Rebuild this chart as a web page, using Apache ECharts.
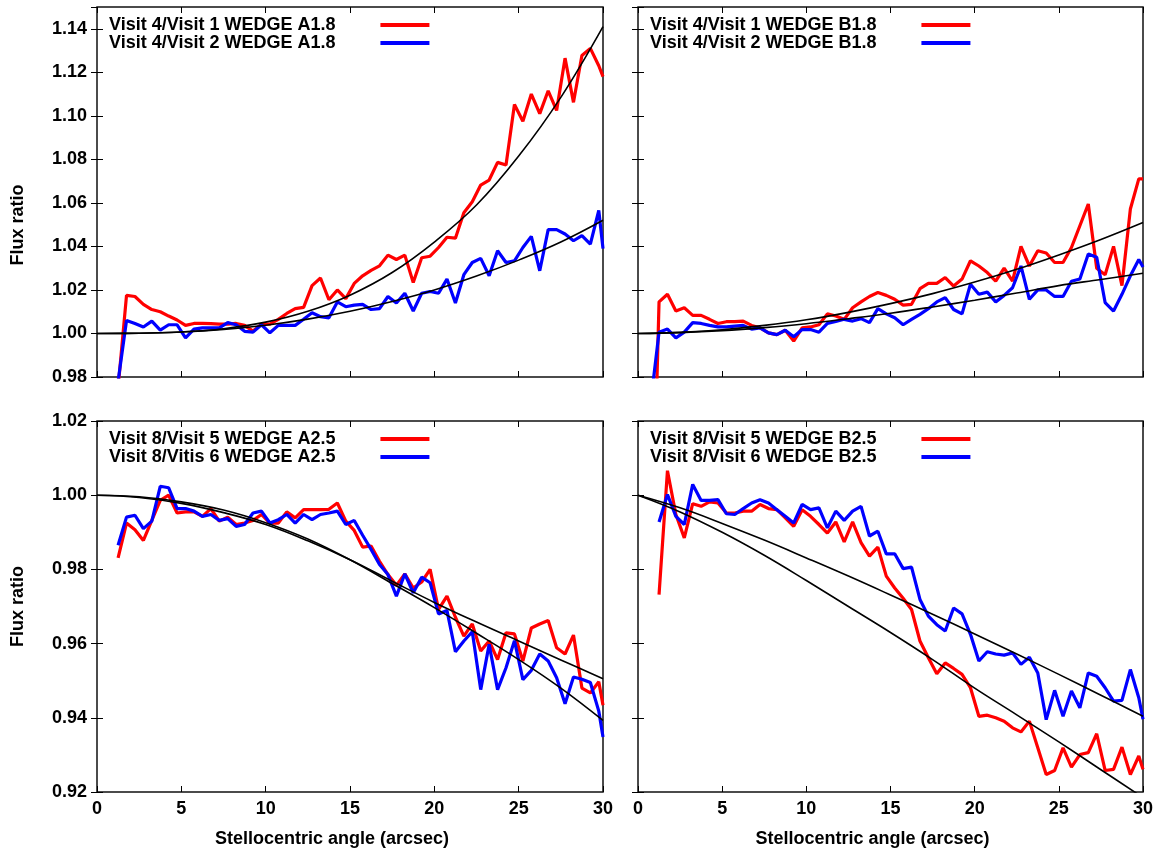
<!DOCTYPE html>
<html>
<head>
<meta charset="utf-8">
<script src="https://cdn.jsdelivr.net/npm/echarts@6/dist/echarts.min.js"></script>
<style>
html,body{margin:0;padding:0;background:#fff;}
#chart{width:1159px;height:852px;}
</style>
</head>
<body>
<div id="chart"></div>
<script>
// ---------- DATA ----------
// sample positions (arcsec); last entry is the right border
const xs = [0.75,1.25,1.75,2.25,2.75,3.25,3.75,4.25,4.75,5.25,5.75,6.25,6.75,7.25,7.75,8.25,8.75,9.25,9.75,10.25,10.75,11.25,11.75,12.25,12.75,13.25,13.75,14.25,14.75,15.25,15.75,16.25,16.75,17.25,17.75,18.25,18.75,19.25,19.75,20.25,20.75,21.25,21.75,22.25,22.75,23.25,23.75,24.25,24.75,25.25,25.75,26.25,26.75,27.25,27.75,28.25,28.75,29.25,29.75,30.0];

// Top-left: WEDGE A1.8
const tlRed = [null,0.975,1.0175,1.017,1.0134,1.011,1.0100,1.008,1.0062,1.0037,1.0046,1.0046,1.0045,1.0043,1.0043,1.0046,1.0037,1.0011,1.0043,1.0043,1.0065,1.0092,1.0114,1.012,1.022,1.0255,1.0155,1.0200,1.016,1.023,1.0265,1.029,1.0311,1.036,1.034,1.036,1.0234,1.0348,1.0355,1.0395,1.0442,1.0438,1.0555,1.0605,1.0682,1.0705,1.0786,1.0774,1.1052,1.0975,1.110,1.101,1.1115,1.1025,1.1265,1.1062,1.1277,1.131,1.123,1.118];
const tlBlue = [null,0.978,1.006,1.0046,1.003,1.0057,1.0015,1.004,1.004,0.998,1.002,1.0026,1.0026,1.0026,1.005,1.004,1.001,1.0006,1.004,1.0003,1.0037,1.0037,1.0037,1.0065,1.0095,1.0077,1.0072,1.0145,1.0123,1.013,1.0134,1.011,1.0114,1.017,1.014,1.0185,1.0103,1.0185,1.0193,1.0185,1.025,1.014,1.027,1.0326,1.0345,1.0265,1.038,1.0326,1.0334,1.0395,1.0446,1.0288,1.0477,1.0477,1.0457,1.0426,1.045,1.041,1.0565,1.039];

// Top-right: WEDGE B1.8
const trRed = [0.87,1.0145,1.018,1.0103,1.0118,1.0083,1.0083,1.0065,1.0046,1.0054,1.0054,1.0057,1.0037,1.0026,1.0003,0.9995,1.0015,0.9965,1.0026,1.003,1.004,1.009,1.008,1.0065,1.0118,1.0145,1.017,1.0188,1.0175,1.0157,1.013,1.0134,1.0206,1.023,1.023,1.0257,1.0218,1.025,1.0334,1.031,1.028,1.024,1.030,1.024,1.040,1.031,1.038,1.037,1.0326,1.0326,1.0395,1.0495,1.0595,1.030,1.027,1.040,1.022,1.0572,1.071,1.071];
const trBlue = [0.968,1.0006,1.002,0.998,1.0006,1.005,1.0046,1.0037,1.003,1.003,1.0034,1.0037,1.002,1.0026,1.0003,0.9995,1.0015,0.9985,1.0018,1.0018,1.0006,1.0046,1.0055,1.0065,1.0057,1.0068,1.005,1.0114,1.009,1.0072,1.004,1.0065,1.0088,1.0114,1.0145,1.0165,1.011,1.009,1.0226,1.018,1.019,1.0145,1.0175,1.021,1.031,1.0157,1.020,1.020,1.017,1.017,1.024,1.025,1.0365,1.035,1.0142,1.0103,1.018,1.0265,1.034,1.0305];

// Bottom-left: WEDGE A2.5
const blRed = [null,0.9831,0.9925,0.9907,0.9878,0.9932,0.9986,1.000,0.9952,0.9955,0.9955,0.9943,0.9964,0.993,0.9941,0.9921,0.9925,0.9932,0.9948,0.9925,0.9925,0.9955,0.9939,0.9961,0.9961,0.9961,0.9962,0.9979,0.993,0.9905,0.986,0.9863,0.9822,0.9786,0.9757,0.9788,0.975,0.9766,0.980,0.9692,0.9728,0.9671,0.962,0.9653,0.958,0.9607,0.9557,0.9629,0.9626,0.9553,0.9642,0.9653,0.9662,0.9589,0.9572,0.9623,0.948,0.9467,0.9497,0.9434];
const blBlue = [null,0.9865,0.9941,0.9946,0.991,0.993,1.0024,1.002,0.9964,0.9964,0.9957,0.9943,0.9948,0.9932,0.9937,0.9916,0.9921,0.9952,0.9957,0.9925,0.9934,0.9948,0.9925,0.9948,0.9934,0.9948,0.9952,0.9957,0.9921,0.9932,0.9892,0.9854,0.9813,0.9786,0.9728,0.9788,0.9737,0.9779,0.9764,0.968,0.9689,0.9578,0.9607,0.9632,0.9476,0.9598,0.9476,0.9535,0.9608,0.9503,0.9528,0.9572,0.9553,0.9508,0.9438,0.951,0.9504,0.9495,0.9418,0.9348];

// Bottom-right: WEDGE B2.5
const brRed = [null,0.9732,1.0066,0.9948,0.9885,0.9977,0.997,0.9982,0.9979,0.9952,0.9952,0.9957,0.9957,0.9975,0.9964,0.9961,0.9939,0.9916,0.9961,0.9943,0.9921,0.9898,0.9928,0.9874,0.9928,0.9872,0.9836,0.986,0.9782,0.975,0.9722,0.9692,0.9607,0.9562,0.9519,0.9548,0.9533,0.9517,0.9481,0.9404,0.9407,0.940,0.9391,0.9373,0.9362,0.9391,0.9319,0.9247,0.9258,0.9319,0.9267,0.9301,0.9306,0.9357,0.9258,0.9261,0.9321,0.9247,0.9297,0.9261];
const brBlue = [null,0.9928,1.0002,0.9943,0.9921,1.0029,0.9986,0.9986,0.9988,0.995,0.9948,0.9964,0.9979,0.9988,0.9979,0.9961,0.9943,0.9925,0.9975,0.9961,0.9966,0.9912,0.9957,0.9932,0.9957,0.997,0.989,0.9903,0.9842,0.9842,0.9802,0.9806,0.9719,0.9674,0.9651,0.9634,0.9696,0.968,0.9625,0.9553,0.9578,0.9572,0.9569,0.9575,0.9544,0.9563,0.9521,0.9395,0.9474,0.9404,0.9472,0.9427,0.9521,0.9512,0.9481,0.9445,0.9447,0.953,0.9454,0.9396];

// fitted curves, read at these positions
const fitX = [0,2.5,5,7.5,10,12.5,15,17.5,20,22.5,25,27.5,30];
const tlFitA = [1.0,1.0001,1.0007,1.0022,1.0052,1.0102,1.0176,1.028,1.042,1.059,1.0815,1.1085,1.141];
const tlFitB = [1.0,1.0001,1.0007,1.0019,1.0038,1.0066,1.0102,1.0147,1.0200,1.0264,1.0337,1.042,1.052];
const trFitA = [1.0,1.0005,1.0017,1.0037,1.0063,1.0097,1.0137,1.0183,1.0236,1.0295,1.0361,1.0432,1.051];
const trFitB = [1.0,1.0004,1.0013,1.0027,1.0045,1.0068,1.0093,1.0122,1.0153,1.0186,1.022,1.0248,1.0277];
const blFitA = [1.0,0.9994,0.9978,0.9953,0.9921,0.9877,0.9826,0.9768,0.9711,0.9658,0.9607,0.9556,0.9505];
const blFitB = [1.0,0.9996,0.9982,0.996,0.9926,0.9882,0.9826,0.9762,0.9697,0.9628,0.9557,0.948,0.9393];
const brFitA = [1.0,0.9966,0.9924,0.9879,0.9831,0.9782,0.9731,0.9679,0.9626,0.9572,0.9517,0.9461,0.9404];
const brFitB = [1.0,0.9955,0.990,0.9838,0.977,0.970,0.963,0.9557,0.948,0.9408,0.9335,0.926,0.9185];

// legend labels
const tlNames = ['Visit 4/Visit 1 WEDGE A1.8','Visit 4/Visit 2 WEDGE A1.8'];
const trNames = ['Visit 4/Visit 1 WEDGE B1.8','Visit 4/Visit 2 WEDGE B1.8'];
const blNames = ['Visit 8/Visit 5 WEDGE A2.5','Visit 8/Vitis 6 WEDGE A2.5'];
const brNames = ['Visit 8/Visit 5 WEDGE B2.5','Visit 8/Visit 6 WEDGE B2.5'];

const xTitle = 'Stellocentric angle (arcsec)';
const yTitle = 'Flux ratio';

// ---------- BUILD ----------
const FONT = '"Liberation Sans", Arial, Helvetica, sans-serif';
const RED = '#ff0000', BLUE = '#0000ff';

const panels = [
  {box:{left:97, top:7, width:506, height:370}, y:[0.98,1.15], xLab:false, yLab:true, red:tlRed, blue:tlBlue, fa:tlFitA, fb:tlFitB, names:tlNames, leg:{left:109, top:16}, yPad:[0,66,0,0]},
  {box:{left:638, top:7, width:505, height:370}, y:[0.98,1.15], xLab:false, yLab:false, red:trRed, blue:trBlue, fa:trFitA, fb:trFitB, names:trNames, leg:{left:650, top:16}},
  {box:{left:97, top:421, width:506, height:371}, y:[0.92,1.02], xLab:true, yLab:true, red:blRed, blue:blBlue, fa:blFitA, fb:blFitB, names:blNames, leg:{left:109, top:430}, yPad:[0,0,0,0]},
  {box:{left:638, top:421, width:505, height:371}, y:[0.92,1.02], xLab:true, yLab:false, red:brRed, blue:brBlue, fa:brFitA, fb:brFitB, names:brNames, leg:{left:650, top:430}}
];

const grid = [], xAxis = [], yAxis = [], series = [], legend = [];
const tick = {show:true, inside:true, length:6, lineStyle:{color:'#000', width:1}};
const labStyle = {fontFamily:FONT, fontWeight:'bold', fontSize:18, color:'#000'};

function pairs(xv, yv){
  const out = [];
  for (let i = 0; i < xv.length; i++) if (yv[i] !== null) out.push([xv[i], yv[i]]);
  return out;
}

panels.forEach((p, k) => {
  grid.push(Object.assign({show:true, borderColor:'#111', borderWidth:1.5, backgroundColor:'transparent', containLabel:false, outerBoundsMode:'none'}, p.box));
  xAxis.push({type:'value', gridIndex:k, position:'bottom', min:0, max:30, interval:5,
    axisLine:{show:false}, axisTick:tick, splitLine:{show:false},
    axisLabel:Object.assign({show:p.xLab, margin:8}, labStyle),
    name:p.xLab ? xTitle : '', nameLocation:'middle', nameGap:38,
    nameTextStyle:Object.assign({padding:[0,36,0,0]}, labStyle)});
  xAxis.push({type:'value', gridIndex:k, position:'top', min:0, max:30, interval:5,
    axisLine:{show:false}, axisTick:tick, splitLine:{show:false}, axisLabel:{show:false}});
  const yint = 0.02;
  yAxis.push({type:'value', gridIndex:k, position:'left', min:p.y[0], max:p.y[1], interval:yint,
    axisLine:{show:false}, axisTick:tick, splitLine:{show:false},
    axisLabel:Object.assign({show:p.yLab, margin:10, showMaxLabel: p.y[1] === 1.02, formatter:v => v.toFixed(2)}, labStyle),
    name:p.yLab ? yTitle : '', nameLocation:'middle', nameGap:70,
    nameTextStyle:Object.assign({padding:p.yPad || [0,0,0,0]}, labStyle)});
  yAxis.push({type:'value', gridIndex:k, position:'right', min:p.y[0], max:p.y[1], interval:yint,
    axisLine:{show:false}, axisTick:tick, splitLine:{show:false}, axisLabel:{show:false}});

  const xi = 2*k, yi = 2*k;
  series.push({name:p.names[0], type:'line', xAxisIndex:xi, yAxisIndex:yi, data:pairs(xs, p.red),
    showSymbol:false, symbol:'none', lineStyle:{color:RED, width:3.2}, itemStyle:{color:RED}, clip:true, z:2});
  series.push({name:p.names[1], type:'line', xAxisIndex:xi, yAxisIndex:yi, data:pairs(xs, p.blue),
    showSymbol:false, symbol:'none', lineStyle:{color:BLUE, width:3.2}, itemStyle:{color:BLUE}, clip:true, z:3});
  series.push({name:'fitA'+k, type:'line', xAxisIndex:xi, yAxisIndex:yi, data:pairs(fitX, p.fa),
    showSymbol:false, symbol:'none', smooth:0.4, lineStyle:{color:'#000', width:1.6}, clip:true, z:4, silent:true});
  series.push({name:'fitB'+k, type:'line', xAxisIndex:xi, yAxisIndex:yi, data:pairs(fitX, p.fb),
    showSymbol:false, symbol:'none', smooth:0.4, lineStyle:{color:'#000', width:1.6}, clip:true, z:4, silent:true});

  legend.push({show:true, data:p.names.map(n => ({name:n, icon:'rect'})), left:p.leg.left, top:p.leg.top, orient:'vertical', align:'right',
    itemWidth:49, itemHeight:4, itemGap:0, selectedMode:false, padding:0,
    textStyle:Object.assign({lineHeight:18, padding:[0,40,0,0]}, labStyle)});
});

const chart = echarts.init(document.getElementById('chart'), null, {renderer:'canvas'});
chart.setOption({animation:false, backgroundColor:'#fff', grid, xAxis, yAxis, series, legend, tooltip:{show:false}});
</script>
</body>
</html>
